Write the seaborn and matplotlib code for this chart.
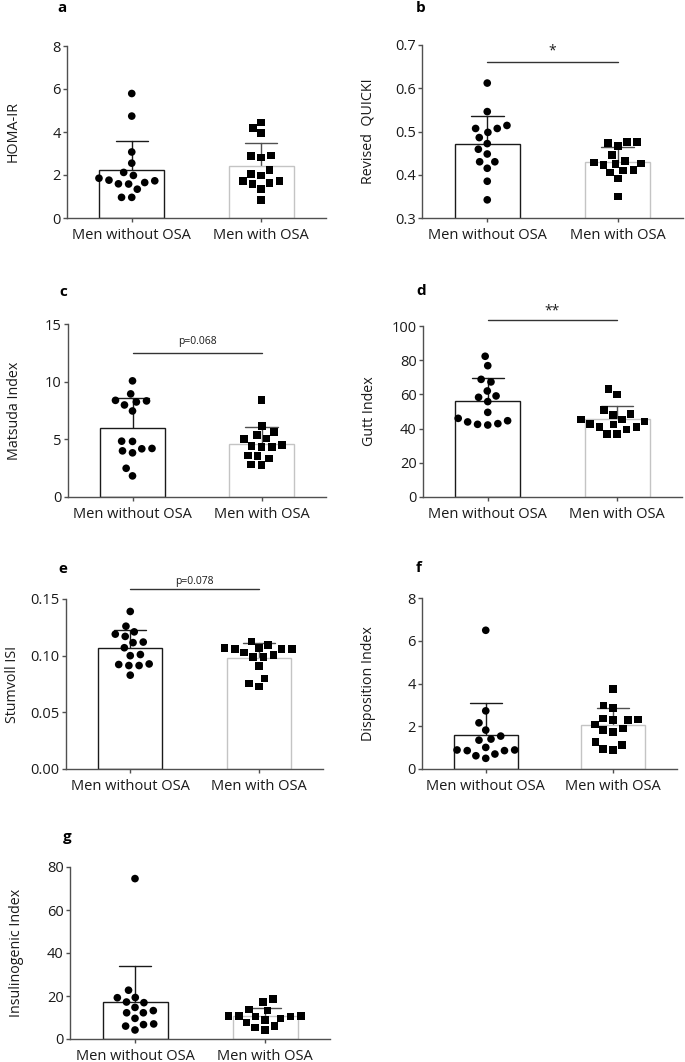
import matplotlib
matplotlib.use("Agg")
import matplotlib.pyplot as plt
import numpy as np
import pandas as pd
import seaborn as sns
from matplotlib.ticker import FormatStrFormatter

# Groupes
groupes = ["Men without OSA", "Men with OSA"]

# Valeurs (15 sujets par groupe)
homa_sans = [5.79, 4.74, 3.07, 2.55, 2.12, 1.98, 1.85, 1.76, 1.73, 1.65, 1.59, 1.58, 1.34, 0.96, 0.96]
homa_avec = [4.45, 4.20, 3.95, 2.90, 2.89, 2.81, 2.24, 2.05, 1.98, 1.73, 1.73, 1.62, 1.58, 1.36, 0.85]

quicki_sans = [0.612, 0.546, 0.514, 0.507, 0.507, 0.498, 0.486, 0.472, 0.459, 0.448, 0.430, 0.430, 0.415, 0.385, 0.342]
quicki_avec = [0.476, 0.476, 0.474, 0.467, 0.446, 0.432, 0.428, 0.426, 0.425, 0.423, 0.411, 0.410, 0.405, 0.391, 0.350]

matsuda_sans = [10.07, 8.94, 8.38, 8.33, 8.24, 7.98, 7.46, 4.84, 4.82, 4.21, 4.18, 4.00, 3.83, 2.49, 1.83]
matsuda_avec = [8.41, 6.15, 5.66, 5.40, 5.08, 5.02, 4.53, 4.44, 4.35, 4.35, 3.60, 3.54, 3.34, 2.81, 2.76]

gutt_sans = [82.3, 76.8, 68.8, 67.3, 62.0, 59.1, 58.3, 55.8, 49.5, 46.0, 44.6, 43.9, 42.9, 42.5, 42.1]
gutt_avec = [63.0, 60.0, 50.7, 48.7, 48.1, 45.4, 45.4, 44.2, 42.7, 42.3, 40.9, 40.9, 39.4, 37.0, 37.0]

stumvoll_sans = [0.139, 0.126, 0.121, 0.119, 0.117, 0.112, 0.1115, 0.107, 0.101, 0.100, 0.0927, 0.0922, 0.0913, 0.0913, 0.0828]
stumvoll_avec = [0.1124, 0.1095, 0.1065, 0.1065, 0.106, 0.106, 0.1057, 0.1027, 0.1007, 0.0989, 0.0986, 0.091, 0.0798, 0.0754, 0.0728]

disposition_sans = [6.49, 2.72, 2.16, 1.82, 1.54, 1.40, 1.35, 1.01, 0.89, 0.89, 0.86, 0.86, 0.70, 0.62, 0.50]
disposition_avec = [3.74, 2.97, 2.86, 2.37, 2.32, 2.29, 2.29, 2.09, 1.90, 1.82, 1.74, 1.25, 1.12, 0.95, 0.90]

insulino_sans = [74.6, 22.7, 19.3, 19.2, 17.2, 16.9, 14.7, 13.2, 12.2, 12.2, 9.6, 7.0, 6.7, 6.0, 4.2]
insulino_avec = [18.6, 17.3, 13.8, 13.2, 10.8, 10.7, 10.7, 10.4, 10.4, 9.6, 8.8, 7.7, 6.0, 5.3, 4.2]

# Axe Y de chaque panneau
titres_y = ["HOMA-IR", "Revised  QUICKI", "Matsuda Index", "Gutt Index",
            "Stumvoll ISI", "Disposition Index", "Insulinogenic Index"]
ticks_y = [
    [0, 2, 4, 6, 8],
    [0.3, 0.4, 0.5, 0.6, 0.7],
    [0, 5, 10, 15],
    [0, 20, 40, 60, 80, 100],
    [0.00, 0.05, 0.10, 0.15],
    [0, 2, 4, 6, 8],
    [0, 20, 40, 60, 80],
]
formats_y = ["%d", "%.1f", "%d", "%d", "%.2f", "%d", "%d"]

# Annotations de significativité : (texte, hauteur de la ligne, hauteur du texte)
annotations = {
    1: ("*", 0.661, 0.686),
    2: ("p=0.068", 12.5, 13.45),
    3: ("**", 103.5, 109.0),
    4: ("p=0.078", 0.159, 0.1655),
}

donnees = [
    (homa_sans, homa_avec),
    (quicki_sans, quicki_avec),
    (matsuda_sans, matsuda_avec),
    (gutt_sans, gutt_avec),
    (stumvoll_sans, stumvoll_avec),
    (disposition_sans, disposition_avec),
    (insulino_sans, insulino_avec),
]

# Position des axes en pixels : gauche, droite, haut, bas
W, H = 685, 1062
cadres = [
    (67, 326, 46, 218),
    (422, 683, 45, 218),
    (68, 326, 324, 497),
    (423, 682, 326, 497),
    (66, 323, 599, 769),
    (422, 677, 598, 769),
    (70, 330, 867, 1039),
]
lettres = [("a", 62, 8), ("b", 421, 8), ("c", 63, 292), ("d", 421, 291),
           ("e", 63, 569), ("f", 419, 568), ("g", 67, 837)]

sns.set_theme(style="white")
plt.rcParams["font.family"] = ["Open Sans", "DejaVu Sans"]

NOIR = "#1a1a1a"
GRIS_BARRE = "#c4c4c4"
GRIS_ERREUR = "#505050"
GRIS_AXE = "#505050"

fig = plt.figure(figsize=(W / 100, H / 100), dpi=100)

for i, ((sans, avec), (g, d, h, b)) in enumerate(zip(donnees, cadres)):
    ax = fig.add_axes([g / W, 1 - b / H, (d - g) / W, (b - h) / H])
    df = pd.DataFrame({
        "groupe": [groupes[0]] * len(sans) + [groupes[1]] * len(avec),
        "valeur": sans + avec,
    })

    sns.barplot(data=df, x="groupe", y="valeur", order=groupes,
                errorbar="sd", capsize=0.25, width=0.5, color="white",
                edgecolor=NOIR, linewidth=1.0,
                err_kws={"color": NOIR, "linewidth": 1.0}, ax=ax)
    # barres au-dessus de la partie basse des barres d'erreur
    for p in ax.patches:
        p.set_zorder(2.5)
    ax.patches[0].set_edgecolor(NOIR)
    ax.patches[1].set_edgecolor(GRIS_BARRE)
    ax.lines[1].set_color(GRIS_ERREUR)

    # nuage de points : ronds pour les sans SAOS, carrés pour les avec
    for groupe, valeurs, marqueur in [(groupes[0], sans, "o"), (groupes[1], avec, "s")]:
        sous = pd.DataFrame({"groupe": groupe, "valeur": valeurs})
        sns.swarmplot(data=sous, x="groupe", y="valeur", order=groupes,
                      marker=marqueur, size=5.5, color="black",
                      edgecolor="none", linewidth=1.5, ax=ax)

    ticks = ticks_y[i]
    ax.set_ylim(ticks[0], ticks[-1])
    ax.set_yticks(ticks)
    ax.yaxis.set_major_formatter(FormatStrFormatter(formats_y[i]))
    ax.set_xlim(-0.5, 1.5)
    ax.set_xlabel("")
    ax.set_ylabel(titres_y[i], fontsize=10.3, color=NOIR)
    ax.yaxis.set_label_coords(-46 / (d - g), 0.5)

    sns.despine(ax=ax)
    for cote in ["left", "bottom"]:
        ax.spines[cote].set_color(GRIS_AXE)
        ax.spines[cote].set_linewidth(1.0)
    ax.tick_params(axis="y", length=3, width=1.0, pad=1.5, labelsize=10.5,
                   color=GRIS_AXE, labelcolor=NOIR, left=True)
    ax.tick_params(axis="x", length=3, width=1.0, pad=4, labelsize=10.5,
                   color=GRIS_AXE, labelcolor=NOIR, bottom=True)

    if i in annotations:
        texte, y_ligne, y_texte = annotations[i]
        ax.plot([0, 1], [y_ligne, y_ligne], color="#333333", linewidth=1.0,
                clip_on=False)
        taille = 10 if "*" in texte else 7.5
        ax.text(0.5, y_texte, texte, ha="center", va="center",
                fontsize=taille, color=NOIR, clip_on=False)

for lettre, x, y in lettres:
    fig.text(x / W, 1 - y / H, lettre, ha="center", va="center",
             fontsize=11, fontweight="bold", color="black")

fig.savefig("out.png", dpi=100)
